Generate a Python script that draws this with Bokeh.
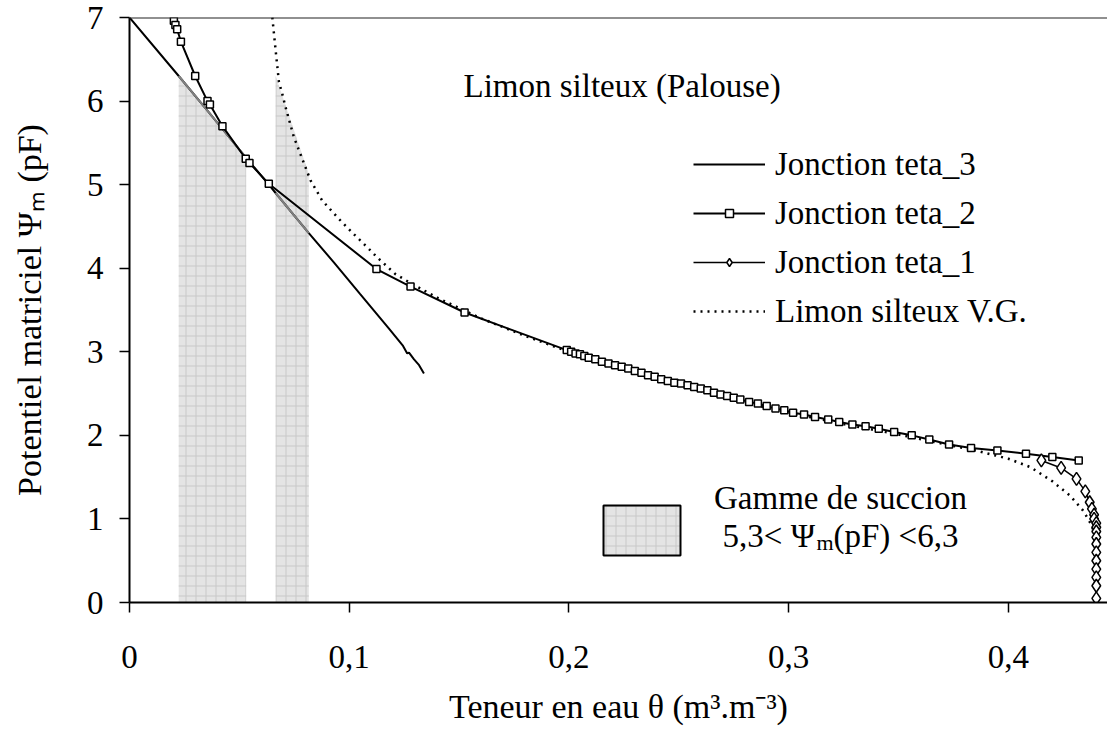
import numpy as np
from bokeh.plotting import figure
from bokeh.models import (Range1d, FixedTicker, CustomJSTickFormatter, Label, Span,
                          BoxAnnotation, Legend, LegendItem)
from bokeh.embed import file_html
from bokeh.resources import INLINE

# ---------------- data (theta in m3/m3, pF) ----------------
teta3_theta = [0.0, 0.0224, 0.035, 0.0531, 0.0634, 0.0665, 0.075, 0.0816, 0.093, 0.105,
               0.118, 0.1245, 0.1264, 0.1272, 0.1295, 0.1318, 0.134]
teta3_pf = [7.0, 6.30, 5.90, 5.32, 5.00, 4.90, 4.63, 4.42, 4.07, 3.69,
            3.28, 3.07, 2.98, 2.99, 2.91, 2.84, 2.74]

teta2_theta = [0.0202, 0.0209, 0.0217, 0.0234, 0.0299, 0.0355, 0.0366, 0.0423, 0.0529, 0.0546,
               0.0634, 0.1124, 0.1279, 0.1525,
               0.199, 0.201, 0.203, 0.205, 0.207, 0.209, 0.212, 0.215, 0.218, 0.221,
               0.224, 0.227, 0.230, 0.233, 0.236, 0.239, 0.242, 0.245, 0.248, 0.251,
               0.254, 0.257, 0.260, 0.263, 0.266, 0.269, 0.272, 0.275, 0.278, 0.282,
               0.286, 0.290, 0.294, 0.298, 0.302, 0.307, 0.312, 0.318, 0.323, 0.329,
               0.335, 0.341, 0.348, 0.356, 0.364, 0.373, 0.383, 0.395, 0.408, 0.420, 0.432]
teta2_pf = [6.96, 6.91, 6.86, 6.71, 6.30, 6.00, 5.96, 5.70, 5.31, 5.26,
            5.01, 3.99, 3.78, 3.47,
            3.02, 3.00, 2.98, 2.97, 2.95, 2.93, 2.91, 2.88, 2.86, 2.84,
            2.82, 2.80, 2.77, 2.75, 2.72, 2.70, 2.67, 2.65, 2.63, 2.62,
            2.60, 2.58, 2.56, 2.54, 2.51, 2.49, 2.47, 2.45, 2.43, 2.40,
            2.38, 2.35, 2.32, 2.30, 2.27, 2.25, 2.22, 2.19, 2.16, 2.13,
            2.11, 2.08, 2.04, 2.00, 1.95, 1.89, 1.85, 1.82, 1.78, 1.74, 1.70]

teta1_theta = [0.415, 0.424, 0.431, 0.435, 0.437, 0.438, 0.439, 0.439, 0.440, 0.440,
               0.440, 0.440, 0.440, 0.440, 0.440, 0.440, 0.440, 0.440, 0.440]
teta1_pf = [1.70, 1.61, 1.48, 1.33, 1.20, 1.12, 1.05, 1.00, 0.95, 0.90,
            0.85, 0.78, 0.70, 0.60, 0.50, 0.40, 0.30, 0.20, 0.05]

vg_theta = [0.065, 0.0665, 0.068, 0.0695, 0.071, 0.0748, 0.0786, 0.0824, 0.0877, 0.0953,
            0.102, 0.109, 0.1127, 0.121, 0.1287, 0.1406, 0.16, 0.18, 0.20, 0.23,
            0.26, 0.29, 0.32, 0.35, 0.37, 0.385, 0.40, 0.41, 0.42, 0.428,
            0.434, 0.438, 0.440]
vg_pf = [7.0, 6.61, 6.23, 6.09, 5.93, 5.57, 5.31, 5.05, 4.81, 4.59,
         4.41, 4.23, 4.13, 3.93, 3.81, 3.64, 3.40, 3.19, 3.00, 2.76,
         2.53, 2.33, 2.16, 2.01, 1.90, 1.82, 1.72, 1.62, 1.45, 1.28,
         1.10, 0.92, 0.72]

# suction range 5.3 < pF < 6.3 shaded under teta_3 and under V.G.
reg1_theta = [0.0224, 0.0531]
reg1_top = [6.30, 5.32]
reg2_theta = [0.0665, 0.0816]
reg2_top = [6.30, 5.13]

x_ticks = [0, 0.1, 0.2, 0.3, 0.4]
y_ticks = [0, 1, 2, 3, 4, 5, 6, 7]

# ---------------- layout ----------------
BL, BT, BB = 129, 17, 134
FRAME_W, FRAME_H = 978, 585
X_END = 0.4451
Y_END = 7.0
FONT = "Liberation Serif"


def X(px):
    return (px - BL) * X_END / FRAME_W


def Y(py):
    return Y_END - (py - BT) * Y_END / FRAME_H


W = {' ': 250, ',': 250, '.': 250, '-': 333, '(': 333, ')': 333, '<': 564, '_': 500,
     'F': 556, 'G': 722, 'J': 389, 'L': 611, 'P': 556, 'T': 611, 'V': 722,
     'a': 444, 'c': 444, 'd': 500, 'e': 444, 'i': 278, 'l': 278, 'm': 778, 'n': 500,
     'o': 500, 'p': 500, 'r': 333, 's': 389, 't': 278, 'u': 500, 'x': 500,
     'Ψ': 780, 'θ': 500}


def tw(s, size):
    return sum(W.get(c, 500) for c in s) * size / 1000.0


p = figure(frame_width=FRAME_W, frame_height=FRAME_H,
           x_range=Range1d(0, X_END), y_range=Range1d(0, Y_END),
           output_backend="svg", toolbar_location=None,
           min_border_left=BL, min_border_right=0, min_border_top=BT, min_border_bottom=BB)
p.outline_line_color = None
p.xgrid.visible = False
p.ygrid.visible = False
p.background_fill_color = "white"
p.border_fill_color = "white"

for ax in (p.xaxis[0], p.yaxis[0]):
    ax.axis_line_color = "black"
    ax.axis_line_width = 2
    ax.major_tick_line_color = "black"
    ax.major_tick_line_width = 1.5
    ax.major_tick_in = 0
    ax.major_tick_out = 10
    ax.minor_tick_line_color = None
    ax.major_label_text_font = FONT
    ax.major_label_text_font_size = "33px"
    ax.major_label_text_color = "black"
    ax.axis_label_text_font = FONT
    ax.axis_label_text_font_size = "34px"
    ax.axis_label_text_font_style = "normal"
    ax.axis_label_text_color = "black"

p.xaxis[0].ticker = FixedTicker(ticks=x_ticks)
p.xaxis[0].formatter = CustomJSTickFormatter(
    code="var s = tick.toFixed(1).replace('.', ','); return s == '0,0' ? '0' : s;")
p.xaxis[0].major_label_standoff = 33
p.xaxis[0].axis_label = "Teneur en eau θ (m³.m⁻³)"
p.xaxis[0].axis_label_standoff = 17
p.yaxis[0].ticker = FixedTicker(ticks=y_ticks)
p.yaxis[0].major_label_standoff = 16
p.yaxis[0].axis_label = "Potentiel matriciel Ψₘ (pF)"
p.yaxis[0].axis_label_standoff = 36

p.add_layout(Span(location=Y_END, dimension="width", line_color="#222222", line_width=2))

# shaded suction ranges
hatch = dict(fill_color="#e4e4e4", hatch_pattern="cross", hatch_color="#c8c8c8",
             hatch_scale=10, hatch_weight=1)
p.varea(x=reg1_theta, y1=0, y2=reg1_top, **hatch)
p.varea(x=reg2_theta, y1=0, y2=reg2_top, **hatch)

t3 = np.array(teta3_theta)
f3 = np.array(teta3_pf)
r3 = p.line(teta3_theta, teta3_pf, line_color="black", line_width=2)
m1 = (t3 >= reg1_theta[0]) & (t3 <= reg1_theta[-1])
m2 = (t3 >= reg2_theta[0]) & (t3 <= reg2_theta[-1])
p.line(t3[m1], f3[m1], line_color="#808080", line_width=2)
p.line(t3[m2], f3[m2], line_color="#808080", line_width=2)

rvg = p.line(vg_theta, vg_pf, line_color="black", line_width=2.5, line_dash="2 5")

r2l = p.line(teta2_theta, teta2_pf, line_color="black", line_width=2)
r2m = p.scatter(teta2_theta, teta2_pf, marker="square", size=7, fill_color="white",
                line_color="black", line_width=1.5)

r1l = p.line(teta1_theta, teta1_pf, line_color="black", line_width=1.5)
r1m = p.scatter(teta1_theta, teta1_pf, marker="diamond", size=13, fill_color="white",
                line_color="black", line_width=1.5)

legend = Legend(items=[LegendItem(label="Jonction teta_3", renderers=[r3]),
                       LegendItem(label="Jonction teta_2", renderers=[r2l, r2m]),
                       LegendItem(label="Jonction teta_1", renderers=[r1l, r1m]),
                       LegendItem(label="Limon silteux V.G.", renderers=[rvg])],
                location=(564, 272), glyph_width=72, glyph_height=20, label_height=38,
                spacing=11, label_standoff=10, padding=0, margin=0,
                border_line_color=None, background_fill_alpha=0,
                label_text_font=FONT, label_text_font_size="33px", label_text_color="black")
p.add_layout(legend)

# texts
p.add_layout(Label(x=X(463), y=Y(85), text="Limon silteux (Palouse)", text_font=FONT,
                   text_font_size="33px", text_color="black", text_align="left",
                   text_baseline="alphabetic"))
p.add_layout(Label(x=X(840), y=Y(497), text="Gamme de succion", text_font=FONT,
                   text_font_size="33px", text_color="black", text_align="center",
                   text_baseline="alphabetic"))


def pieces_h(pieces, center_px, base_py):
    total = sum(tw(s, sz) for s, sz, _ in pieces)
    x = center_px - total / 2.0
    for s, sz, off in pieces:
        p.add_layout(Label(x=X(x), y=Y(base_py + off), text=s, text_font=FONT,
                           text_font_size="%dpx" % sz, text_color="black",
                           text_align="left", text_baseline="alphabetic"))
        x += tw(s, sz)


pieces_h([("5,3< Ψ", 33, 0), ("m", 22, 7), ("(pF) <6,3", 33, 0)], 840, 535)

# suction-range key box
p.add_layout(BoxAnnotation(left=X(603), right=X(680), top=Y(505), bottom=Y(555),
                           fill_color="#e4e4e4", fill_alpha=1, hatch_pattern="cross",
                           hatch_color="#c8c8c8", hatch_scale=10, hatch_weight=1,
                           line_color="black", line_alpha=1, line_width=2))

open("out.html", "w").write(file_html(p, INLINE))
